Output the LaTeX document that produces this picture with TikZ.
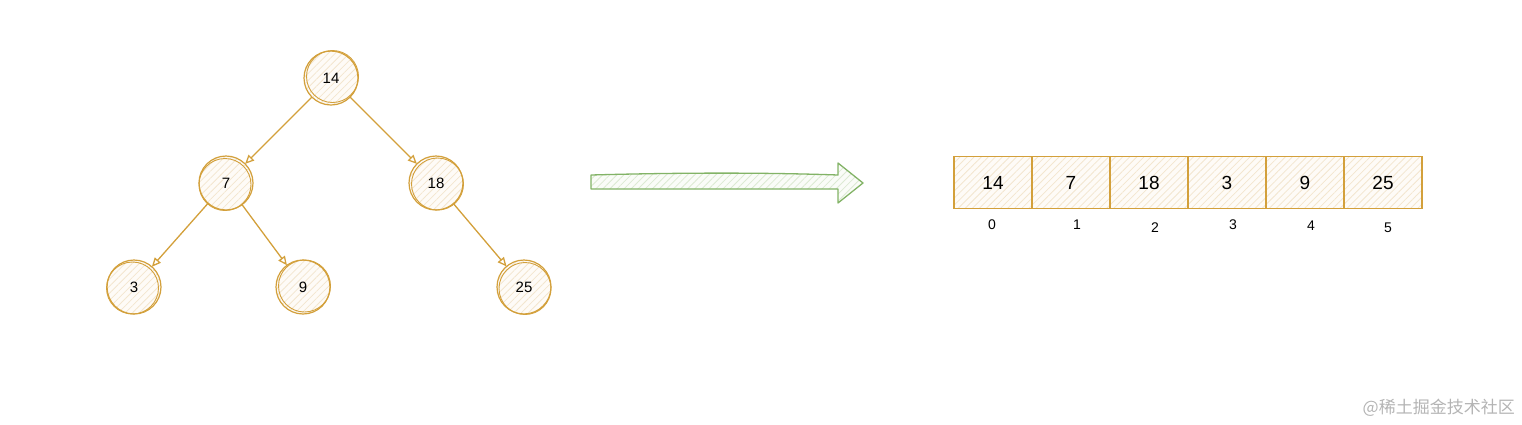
\documentclass[tikz,border=0pt]{standalone}
\usepackage{fontspec}
\setmainfont{Liberation Sans}
\newfontfamily\cjkfont{Noto Sans CJK SC}
\usetikzlibrary{arrows.meta,patterns.meta}
\definecolor{gold}{HTML}{D3A03B}
\definecolor{cream}{HTML}{FEFBF7}
\definecolor{hatch}{HTML}{F3E6CF}
\definecolor{grn}{HTML}{82B366}
\definecolor{grnfill}{HTML}{FAFCF8}
\definecolor{grnhatch}{HTML}{DCEAD3}
\definecolor{wm}{HTML}{B4B4B4}
\tikzset{
  hatched/.style={preaction={fill=#1}, preaction={pattern={Lines[angle=45, distance=5pt, line width=0.8pt]}, pattern color=hatch}},
  treenode/.style={circle, draw=gold, line width=1.2pt, hatched=cream,
    minimum size=54pt, inner sep=0pt, outer sep=0pt, font=\fontsize{15pt}{17pt}\selectfont},
  sketchring/.style={draw=gold, line width=0.9pt},
  treeedge/.style={draw=gold, line width=1.3pt, -{Triangle[open, length=9pt, width=8pt]}},
  cell/.style={rectangle, draw=gold, line width=1.3pt, hatched=cream,
    minimum width=78pt, minimum height=52pt, inner sep=0pt, outer sep=0pt,
    font=\fontsize{19pt}{22pt}\selectfont},
  idx/.style={font=\fontsize{14pt}{16pt}\selectfont, inner sep=0pt},
}
\begin{document}
\begin{tikzpicture}[x=1pt, y=-1pt]
\useasboundingbox (0,0) rectangle (1522,424);
% tree
\node[treenode] (n14) at (331,78) {14};
\node[treenode] (n7) at (226,183) {7};
\node[treenode] (n18) at (436,183) {18};
\node[treenode] (n3) at (134,287) {3};
\node[treenode] (n9) at (303,287) {9};
\node[treenode] (n25) at (524,287) {25};
\foreach \n/\dx/\dy in {n14/1.5/-1.5, n7/-1/1.5, n18/1.5/1, n3/-1.5/1, n9/1.5/-1, n25/1/1.5}{
  \draw[sketchring] (\n.center) ++(\dx,\dy) circle[radius=26];
}
\draw[treeedge] (n14) -- (n7);
\draw[treeedge] (n14) -- (n18);
\draw[treeedge] (n7) -- (n3);
\draw[treeedge] (n7) -- (n9);
\draw[treeedge] (n18) -- (n25);
% big arrow
\draw[draw=grn, line width=1.3pt, preaction={fill=grnfill},
  preaction={pattern={Lines[angle=45, distance=5pt, line width=0.8pt]}, pattern color=grnhatch}, line join=round]
  (591,175) .. controls (700,172) and (780,173) .. (838,175) -- (838,163) -- (863,183)
  -- (838,203) -- (838,189) -- (591,189) -- cycle;
% array
\foreach \v [count=\i from 0] in {14,7,18,3,9,25}{
  \node[cell] (c\i) at ({993+78*\i},182.5) {\v};
}
\foreach \i/\x/\y in {0/992/225,1/1077/225,2/1155/228,3/1233/225,4/1311/226,5/1388/228}{
  \node[idx] (i\i) at (\x,\y) {\i};
}
% watermark
\node[text=wm, font=\cjkfont\fontsize{17pt}{19pt}\selectfont, anchor=east, inner sep=0pt] (wm) at (1515,408) {@稀土掘金技术社区};
\end{tikzpicture}
\end{document}
